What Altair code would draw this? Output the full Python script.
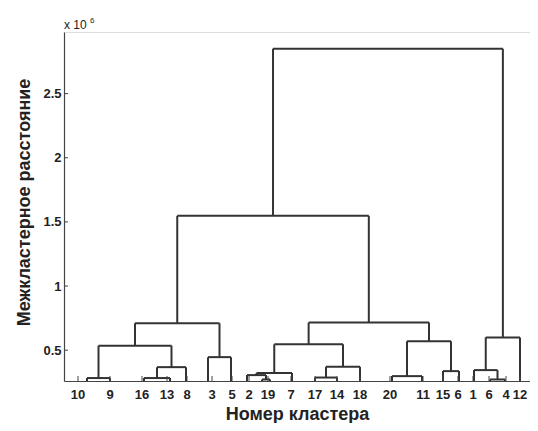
import altair as alt
import pandas as pd

# ---- data (values in units of 10^6) ----
tick_labels = ["10", "9", "16", "13", "8", "3", "5", "2", "19", "7", "17", "14", "18",
               "20", "11", "15", "6", "1", "6", "4", "12"]
tick_pos = [14, 46, 78, 103, 123, 148, 168, 185, 204, 227, 251, 273, 296,
            326, 359, 379, 394, 409, 425, 442, 456]

# positions of the tree's leaves along the axis
leaf_x = [23, 46, 80, 106, 122, 144, 167, 183, 198, 206, 228, 251, 273, 296,
          328, 358, 379, 395, 410, 426, 441, 456]

# merges: node ids 0..21 are leaves, merge k creates node 22+k
merge_left = [0, 2, 23, 22, 5, 25, 8, 7, 29, 11, 31, 30, 14, 16, 34, 33, 27, 19, 18, 40, 38]
merge_right = [1, 3, 4, 24, 6, 26, 9, 28, 10, 12, 13, 32, 15, 17, 35, 36, 37, 20, 39, 21, 41]
merge_height = [0.283, 0.283, 0.368, 0.535, 0.446, 0.71, 0.272, 0.306, 0.322, 0.287,
                0.372, 0.546, 0.298, 0.337, 0.57, 0.715, 1.547, 0.272, 0.345, 0.60, 2.85]

y_ticks = [0.5, 1, 1.5, 2, 2.5]
y_min, y_max = 0.26, 2.98
x_max = 466

W, H = 466, 349

# ---- build segments from the tree ----
node_x = list(leaf_x)
node_h = [y_min] * len(leaf_x)
segs = []
for l, r, h in zip(merge_left, merge_right, merge_height):
    xl, xr = node_x[l], node_x[r]
    segs.append(dict(x=xl, x2=xl, y=node_h[l], y2=h))
    segs.append(dict(x=xr, x2=xr, y=node_h[r], y2=h))
    segs.append(dict(x=xl, x2=xr, y=h, y2=h))
    node_x.append((xl + xr) / 2)
    node_h.append(h)
seg_df = pd.DataFrame(segs)

FONT = "Liberation Sans"
LINE = "#333333"
AXIS = "#444444"
TXT = "#222222"

xscale = alt.Scale(domain=[0, x_max], nice=False, zero=False)
yscale = alt.Scale(domain=[y_min, y_max], nice=False, zero=False)

links = alt.Chart(seg_df).mark_rule(color=LINE, strokeWidth=2).encode(
    x=alt.X("x:Q", scale=xscale, axis=alt.Axis(
        title="Номер кластера", labels=False, ticks=False, grid=False,
        titleFont=FONT, titleFontSize=18, titleFontWeight="bold", titleColor=TXT,
        titleBaseline="alphabetic", titleY=38,
        domainColor=AXIS, domainWidth=1.2)),
    x2="x2:Q",
    y=alt.Y("y:Q", scale=yscale, axis=alt.Axis(
        title="Межкластерное расстояние", values=y_ticks, format="~g",
        ticks=False, grid=False, labelPadding=3,
        labelFont=FONT, labelFontSize=13, labelFontWeight="bold", labelColor=TXT,
        titleFont=FONT, titleFontSize=18, titleFontWeight="bold", titleColor=TXT,
        titleBaseline="alphabetic", titleX=-35, titleY=170, titleAngle=270,
        domainColor=AXIS, domainWidth=1.2)),
    y2="y2:Q",
)

ytick_df = pd.DataFrame({"v": y_ticks})
yticks = alt.Chart(ytick_df).mark_rule(color=AXIS, strokeWidth=1).encode(
    y=alt.Y("v:Q", scale=yscale), x=alt.value(0), x2=alt.value(4))

xtick_df = pd.DataFrame({"p": tick_pos, "t": tick_labels})
xticks = alt.Chart(xtick_df).mark_rule(color=AXIS, strokeWidth=1).encode(
    x=alt.X("p:Q", scale=xscale), y=alt.value(H), y2=alt.value(H - 5))
xlabels = alt.Chart(xtick_df).mark_text(
    font=FONT, fontSize=13, fontWeight="bold", color=TXT,
    align="center", baseline="alphabetic").encode(
    x=alt.X("p:Q", scale=xscale), y=alt.value(H + 18), text="t:N")

one = pd.DataFrame({"a": [0]})
mult = alt.Chart(one).mark_text(font=FONT, fontSize=12, align="left",
                                baseline="alphabetic", color=TXT).encode(
    x=alt.value(0), y=alt.value(-3), text=alt.value("x 10"))
expo = alt.Chart(one).mark_text(font=FONT, fontSize=8, align="left",
                                baseline="alphabetic", color=TXT).encode(
    x=alt.value(26), y=alt.value(-9), text=alt.value("6"))

chart = alt.layer(links, yticks, xticks, xlabels, mult, expo).properties(
    width=W, height=H,
    autosize=alt.AutoSizeParams(type="none"),
    padding={"left": 56, "top": 24, "right": 0, "bottom": 42},
).configure_view(stroke=None).configure(background="white")

chart.save("out.html", embed_options={"renderer": "svg", "actions": False})
